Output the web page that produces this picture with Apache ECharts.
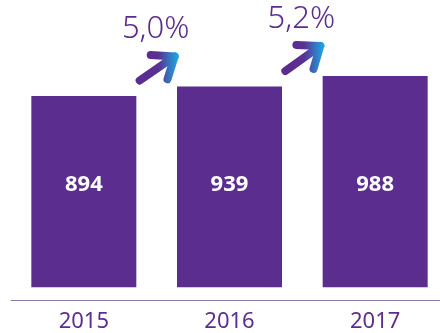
<!DOCTYPE html>
<html>
<head>
<meta charset="utf-8">
<script src="https://cdn.jsdelivr.net/npm/echarts@6/dist/echarts.min.js"></script>
<style>
  html, body { margin: 0; padding: 0; background: #ffffff; overflow: hidden; }
  /* the plot runs a little past the right edge of the page */
  #chart { width: 448px; height: 333px; }
</style>
</head>
<body>
<div id="chart"></div>
<script>
// Yearly totals
const years = ['2015', '2016', '2017'];
const totals = [894, 939, 988];
// Year-on-year growth shown above the arrows between bars
const growthLabels = ['5,0%', '5,2%'];

const PURPLE = '#5b2d8e';
const BLUE = '#1ea6e0';

const chart = echarts.init(document.getElementById('chart'), null, { renderer: 'canvas' });

// One entry per gap: [fromIndex, fromValue, toValue, label]
const growthData = growthLabels.map((label, i) => [i, totals[i], totals[i + 1], label]);

function renderGrowth(params, api) {
  const i = api.value(0);
  const from = api.coord([i, api.value(1)]);
  const to = api.coord([i + 1, api.value(2)]);
  const gx = (from[0] + to[0]) / 2;
  const tail = [gx - 17, from[1] - 15.5];
  const tip = [gx + 18, to[1] - 30];
  const ang = Math.atan2(tail[1] - tip[1], tail[0] - tip[0]);
  const spread = 38 * Math.PI / 180;
  const wing = 24;
  const w1 = [tip[0] + wing * Math.cos(ang - spread), tip[1] + wing * Math.sin(ang - spread)];
  const w2 = [tip[0] + wing * Math.cos(ang + spread), tip[1] + wing * Math.sin(ang + spread)];
  const grad = new echarts.graphic.LinearGradient(tail[0] + 6, 0, tip[0] + 3, 0, [
    { offset: 0, color: PURPLE },
    { offset: 0.4, color: '#5a3193' },
    { offset: 1, color: BLUE }
  ], true);
  const stroke = { stroke: grad, lineWidth: 8, lineCap: 'round', lineJoin: 'round', fill: null };
  return {
    type: 'group',
    children: [
      { type: 'line', shape: { x1: tail[0], y1: tail[1], x2: tip[0], y2: tip[1] }, style: stroke },
      { type: 'polyline', shape: { points: [w1, tip, w2] }, style: stroke },
      {
        type: 'text',
        style: {
          text: api.value(3),
          x: gx - 1,
          y: tip[1] - 27,
          align: 'center',
          verticalAlign: 'middle',
          fill: PURPLE,
          font: '300 31px "Noto Sans", sans-serif'
        }
      }
    ]
  };
}

chart.setOption({
  animation: false,
  grid: { left: 11, right: 0, top: 30.6, bottom: 32 },
  xAxis: {
    type: 'category',
    data: years,
    axisLine: { onZero: false, lineStyle: { color: '#8d79aa', width: 1 } },
    axisTick: { show: false },
    axisLabel: {
      color: PURPLE,
      fontFamily: 'Noto Sans',
      fontSize: 22,
      margin: 11
    }
  },
  yAxis: {
    type: 'value',
    min: -60,
    max: 1200,
    show: false,
    splitLine: { show: false }
  },
  series: [
    {
      type: 'bar',
      data: totals,
      barWidth: 105,
      itemStyle: { color: PURPLE },
      label: {
        show: true,
        position: 'insideBottom',
        distance: 91,
        color: '#ffffff',
        fontFamily: 'Noto Sans',
        fontWeight: 'bold',
        fontSize: 22,
        lineHeight: 22
      }
    },
    {
      type: 'custom',
      data: growthData,
      clip: false,
      renderItem: renderGrowth,
      z: 5
    }
  ]
});
</script>
</body>
</html>
